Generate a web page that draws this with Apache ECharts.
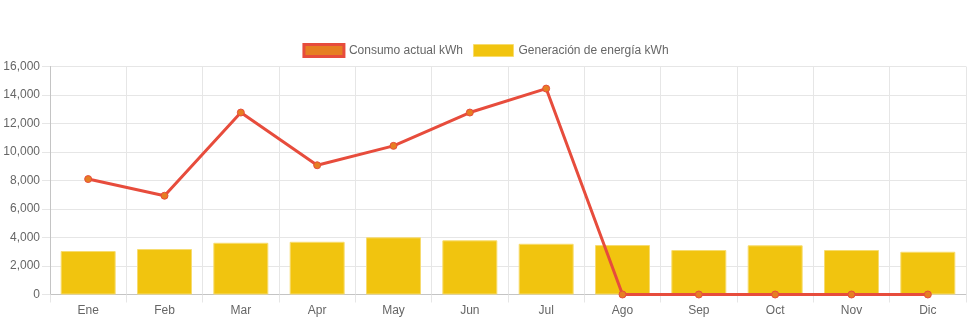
<!DOCTYPE html>
<html>
<head>
<meta charset="utf-8">
<script src="https://cdn.jsdelivr.net/npm/echarts@6/dist/echarts.min.js"></script>
<style>
  html, body { margin: 0; padding: 0; background: #fff; }
  #chart { width: 971px; height: 323px; }
</style>
</head>
<body>
<div id="chart"></div>
<script>
// Monthly energy figures
const months = ['Ene', 'Feb', 'Mar', 'Apr', 'May', 'Jun', 'Jul', 'Ago', 'Sep', 'Oct', 'Nov', 'Dic'];
const consumo = [8100, 6930, 12770, 9070, 10430, 12770, 14450, 0, 0, 0, 0, 0];
const generacion = [3050, 3190, 3630, 3700, 4010, 3800, 3560, 3470, 3120, 3450, 3120, 3000];
const yTicks = { min: 0, max: 16000, interval: 2000 };

const FONT = '"Liberation Sans", Arial, Helvetica, sans-serif';
const GRID = '#e6e6e6';
const AXIS = '#c4c4c4';
const TEXT = '#666';

const chart = echarts.init(document.getElementById('chart'), null, { renderer: 'canvas' });

chart.setOption({
  animation: false,
  textStyle: { fontFamily: FONT },
  legend: {
    top: 38,
    left: 'center',
    itemWidth: 40,
    itemHeight: 12,
    itemGap: 10,
    textStyle: { color: TEXT, fontSize: 12, fontFamily: FONT },
    data: [
      {
        name: 'Consumo actual kWh',
        icon: 'rect',
        itemStyle: { color: '#e67e22', borderColor: '#e74c3c', borderWidth: 3 }
      },
      {
        name: 'Generación de energía kWh',
        icon: 'rect',
        itemStyle: { color: '#f1c40f', borderColor: '#f7dc6f', borderWidth: 1 }
      }
    ]
  },
  grid: { left: 50, right: 5, top: 66.5, bottom: 28.5, containLabel: false },
  xAxis: {
    type: 'category',
    data: months,
    boundaryGap: true,
    axisLine: { show: true, lineStyle: { color: AXIS, width: 1 } },
    axisTick: { show: true, length: 8, alignWithLabel: false, lineStyle: { color: GRID } },
    axisLabel: { color: TEXT, fontSize: 12, margin: 10, fontFamily: FONT },
    splitLine: { show: true, lineStyle: { color: GRID, width: 1 } }
  },
  yAxis: {
    type: 'value',
    min: yTicks.min,
    max: yTicks.max,
    interval: yTicks.interval,
    axisLine: { show: true, lineStyle: { color: AXIS, width: 1 } },
    axisTick: { show: true, length: 8, lineStyle: { color: GRID } },
    axisLabel: {
      color: TEXT,
      fontSize: 12,
      margin: 10,
      fontFamily: FONT,
      formatter: v => v.toLocaleString('en-US')
    },
    splitLine: { show: true, lineStyle: { color: GRID, width: 1 } }
  },
  series: [
    {
      name: 'Consumo actual kWh',
      type: 'line',
      data: consumo,
      z: 5,
      symbol: 'circle',
      symbolSize: 7,
      showAllSymbol: true,
      lineStyle: { color: '#e74c3c', width: 3 },
      itemStyle: { color: '#e67e22', borderColor: '#e74c3c', borderWidth: 1 }
    },
    {
      name: 'Generación de energía kWh',
      type: 'bar',
      data: generacion,
      z: 2,
      barWidth: '72%',
      itemStyle: { color: '#f1c40f', borderColor: '#f7dc6f', borderWidth: 1 }
    }
  ]
});
</script>
</body>
</html>
